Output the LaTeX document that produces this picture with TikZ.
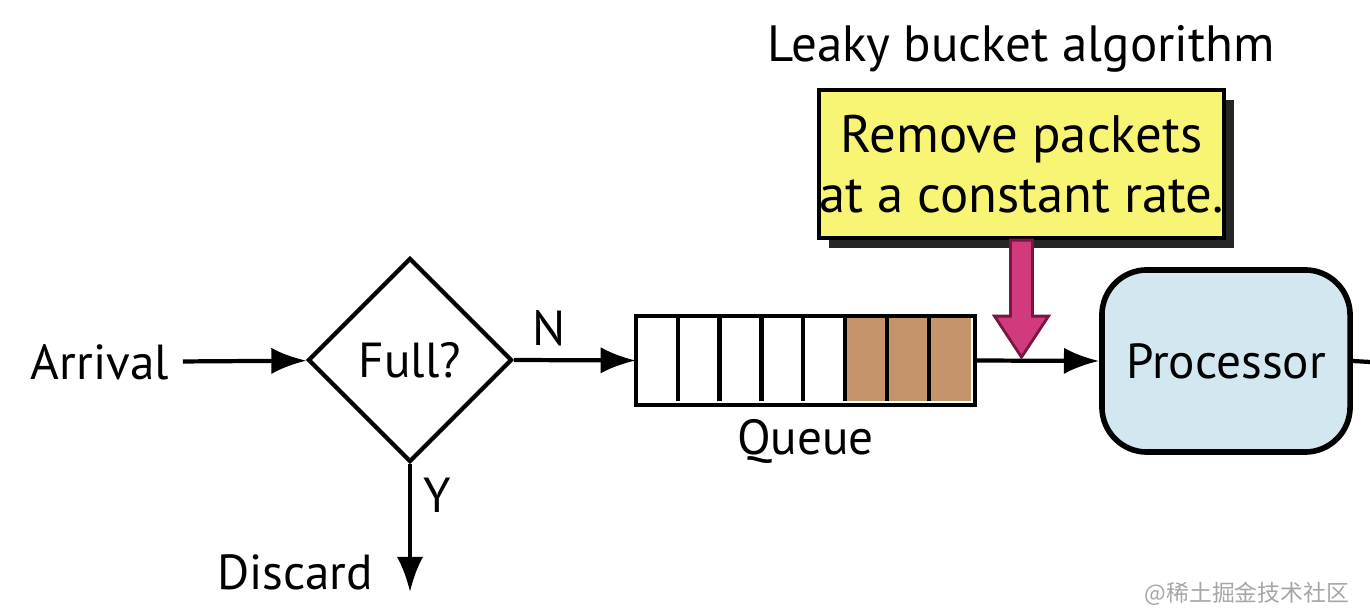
\documentclass[tikz,border=0pt]{standalone}
\usepackage{fontspec}
\setmainfont{PT Sans}
\newfontfamily\cjkfont{Noto Sans CJK SC}
\usetikzlibrary{positioning, arrows.meta, calc, shapes.geometric, shadows}
\definecolor{notizgelb}{HTML}{F8F574}
\definecolor{leckrot}{HTML}{D13B7D}
\definecolor{leckrand}{HTML}{7A1640}
\definecolor{paketbraun}{HTML}{C4956A}
\definecolor{prozblau}{HTML}{D3E7F0}

\begin{document}
\begin{tikzpicture}[x=0.01cm, y=-0.01cm, line width=1.2pt, font=\fontsize{14}{17}\selectfont,
    pfeil/.style={-{Latex[length=10pt, width=7.5pt]}}]
    % 1 Einheit = 1 Pixel des Vorbilds
    \useasboundingbox (0,0) rectangle (1370,616);

    % --- ZUFLUSS ---
    \node (arrival) at (100,362) {Arrival};
    \node[draw, diamond, aspect=1, minimum width=2.04cm, minimum height=2.04cm, inner sep=0pt] (full) at (410,360) {Full?};
    \draw[pfeil] (arrival) -- (full);

    % --- WARTESCHLANGE ---
    \node[minimum width=3.35cm, minimum height=0.85cm, inner sep=0pt] (queue) at (805.5,360.5) {};
    \foreach \i in {5,6,7}
        \fill[paketbraun] ($(queue.north west)+(\i*41.875,0)$) rectangle ++(41.875,85);
    \foreach \i in {1,...,7}
        \draw ($(queue.north west)+(\i*41.875,0)$) -- ++(0,85);
    \draw (queue.north west) rectangle (queue.south east);
    \node[below=0pt of queue] (queuelabel) {Queue};
    \draw[pfeil] (full.east) -- node[above, pos=0.29] (nlabel) {N} (queue.west);

    % --- VERWERFEN ---
    \coordinate (discardend) at (410,592);
    \draw[pfeil] (full.south) -- node[right, pos=0.24] (ylabel) {Y} (discardend);
    \node (discard) at (295,572) {Discard};

    % --- PROZESSOR ---
    \node[draw, line width=1.6pt, rounded corners=0.45cm, fill=prozblau, minimum width=2.48cm, minimum height=1.82cm] (proc) at (1226,361) {Processor};
    \draw[pfeil] (queue.east) -- (proc.west);
    \coordinate (aus) at (1370,362);
    \draw (proc.east) -- (aus);

    % --- LEAKY BUCKET ---
    \node[draw, fill=notizgelb, drop shadow={shadow xshift=0.1cm, shadow yshift=-0.1cm, fill=black!85, opacity=1},
        minimum width=3.93cm, minimum height=1.48cm, inner sep=0pt, align=center,
        font=\fontsize{15}{17}\selectfont] (note) at (1021.5,164) {Remove packets\\at a constant rate.};
    \node[above=0.02cm of note, font=\fontsize{14.5}{17}\selectfont] (title) {Leaky bucket algorithm};
    \filldraw[fill=leckrot, draw=leckrand, line width=0.8pt]
        ($(note.south)+(-11,0)$) -- ++(0,76) -- ++(-16,0) -- ++(27,41) -- ++(27,-41) -- ++(-16,0) -- ++(0,-76) -- cycle;

    % Wasserzeichen
    \node[text=black!35, font=\cjkfont\fontsize{6.5}{8}\selectfont] (wasserzeichen) at (1247,594) {@稀土掘金技术社区};
\end{tikzpicture}
\end{document}
